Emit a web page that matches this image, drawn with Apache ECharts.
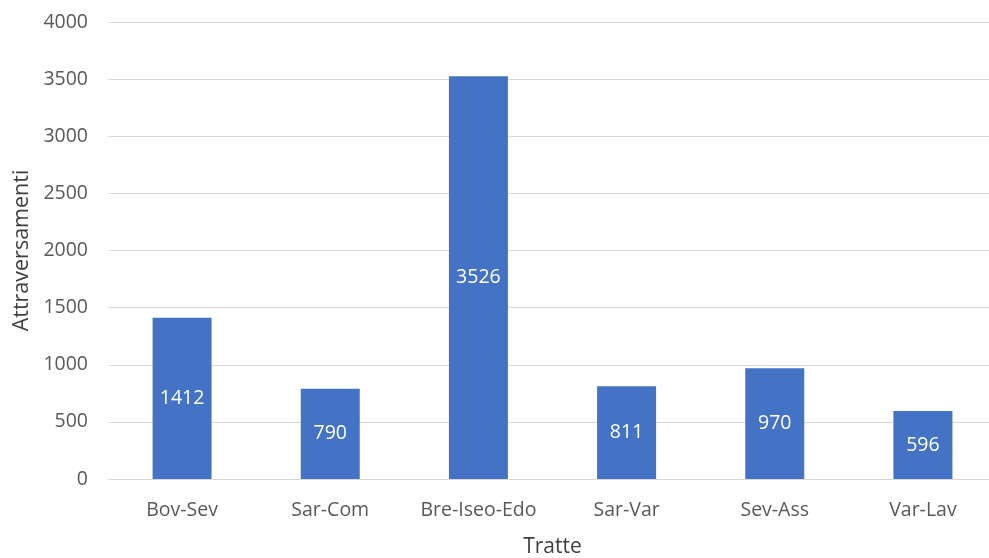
<!DOCTYPE html>
<html><head><meta charset="utf-8">
<script src="https://cdn.jsdelivr.net/npm/echarts@6/dist/echarts.min.js"></script>
<style>html,body{margin:0;padding:0;background:#fff}#c{width:989px;height:558px}</style>
</head><body><div id="c"></div>
<script>
const categories = ['Bov-Sev','Sar-Com','Bre-Iseo-Edo','Sar-Var','Sev-Ass','Var-Lav'];
const values = [1412, 790, 3526, 811, 970, 596];
const yTicks = [0, 500, 1000, 1500, 2000, 2500, 3000, 3500, 4000];
const chart = echarts.init(document.getElementById('c'));
const font = 'Open Sans';
chart.setOption({
  animation:false,
  grid:{left:108, top:22, width:889, height:457, containLabel:false, outerBoundsMode:'none'},
  xAxis:{type:'category', data:categories, name:'Tratte', nameLocation:'middle', nameGap:58,
    nameTextStyle:{fontFamily:font, fontSize:21, color:'#404040'},
    axisLine:{show:false}, axisTick:{show:false},
    axisLabel:{fontFamily:font, fontSize:19.5, color:'#595959', margin:21, interval:0, hideOverlap:false}},
  yAxis:{type:'value', min:yTicks[0], max:yTicks[yTicks.length-1], interval:500, name:'Attraversamenti', nameLocation:'middle', nameGap:75,
    nameTextStyle:{fontFamily:font, fontSize:21.5, color:'#404040'},
    axisLine:{show:false}, axisTick:{show:false},
    splitLine:{lineStyle:{color:'#d9d9d9', width:1}},
    axisLabel:{fontFamily:font, fontSize:19.5, color:'#595959', margin:20, formatter: v => String(v)}},
  series:[{type:'bar', data:values, barWidth:59, itemStyle:{color:'#4472C4'},
    label:{show:true, position:'inside', fontFamily:font, fontSize:19.5, color:'#ffffff'}}]
});
</script></body></html>
